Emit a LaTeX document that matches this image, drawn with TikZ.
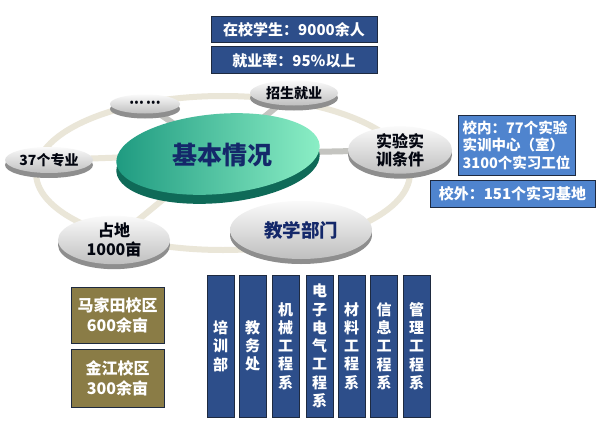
\documentclass[tikz,border=0pt]{standalone}
\usepackage{fontspec}
\newfontfamily\cjk{Noto Sans CJK SC}
\newfontfamily\lat{Noto Sans}
\usetikzlibrary{shapes.geometric,shadows,backgrounds}
\definecolor{ringc}{HTML}{EAE6D8}
\definecolor{spokec}{HTML}{C4C4C0}
\definecolor{darkblue}{HTML}{2D4E8A}
\definecolor{lightblue}{HTML}{4F84CE}
\definecolor{olive}{HTML}{8A7C46}
\definecolor{edgec}{HTML}{1E2A40}
\definecolor{navy}{HTML}{14286A}
\definecolor{tealA}{HTML}{1E9A80}
\definecolor{tealB}{HTML}{8CEFC6}
\definecolor{tealrim}{HTML}{0F6A58}
\definecolor{grayrim}{HTML}{8E8E8E}
\tikzset{
  box/.style={rectangle, draw=edgec, line width=1pt, text=white, inner sep=0pt, align=center},
  topbox/.style={box, fill=darkblue, minimum width=166pt, minimum height=26pt, font=\cjk\bfseries\fontsize{15}{18}\selectfont},
  rbox/.style={box, fill=lightblue, font=\cjk\bfseries\fontsize{14.5}{17.5}\selectfont},
  obox/.style={box, fill=olive, minimum width=93pt, font=\cjk\bfseries\fontsize{16}{20}\selectfont},
  vbox/.style={box, fill=darkblue, minimum width=27pt, minimum height=142pt, font=\cjk\bfseries\fontsize{15}{18.3}\selectfont},
  gnode/.style={ellipse, inner sep=0pt, align=center, text=black!85!navy,
     top color=white!96!gray, bottom color=gray!50,
     drop shadow={shadow xshift=0pt, shadow yshift=-5pt, fill=grayrim, opacity=1}},
  spoke/.style={spokec, line width=6pt},
}
\begin{document}
\begin{tikzpicture}[x=1pt,y=-1pt]
\useasboundingbox (0,0) rectangle (601,425);

% top boxes
\node[topbox] (t1) at (294,30) {在校学生：9000余人};
\node[topbox, minimum height=27pt] (t2) at (294,60.5) {就业率：95\%以上};

% central ellipse
\node[ellipse, minimum width=204pt, minimum height=80pt, rotate=5, inner sep=0pt,
  left color=tealA, right color=tealB,
  drop shadow={shadow xshift=0pt, shadow yshift=-9pt, fill=tealrim, opacity=1}] (c) at (218,154) {};
\node[text=navy, font=\cjk\bfseries\fontsize{25}{28}\selectfont] (ct) at (222,155) {基本情况};

% gray nodes
\node[gnode, minimum width=70pt, minimum height=19pt, font=\lat\bfseries\fontsize{13}{14}\selectfont] (dots) at (145,104) {•••\,•••};
\node[gnode, minimum width=88pt, minimum height=25pt, font=\cjk\bfseries\fontsize{14}{16}\selectfont] (zs) at (294,93) {招生就业};
\node[gnode, minimum width=88pt, minimum height=26pt, font=\cjk\bfseries\fontsize{14}{16}\selectfont] (zy) at (49,160) {37个专业};
\node[gnode, minimum width=104pt, minimum height=38pt, font=\cjk\bfseries\fontsize{16}{18}\selectfont] (sy) at (400,150) {实验实\\训条件};
\node[gnode, minimum width=112pt, minimum height=46pt, font=\cjk\bfseries\fontsize{16}{19}\selectfont] (zd) at (114,240) {占地\\1000亩};
\node[gnode, minimum width=142pt, minimum height=58pt, font=\cjk\bfseries\fontsize{18.5}{20}\selectfont, text=navy] (jx) at (301,230) {教学部门};

% ring and spokes
\begin{pgfonlayer}{background}
\fill[white] (0,0) rectangle (601,425);
\draw[ringc, line width=6pt] (223,173) ellipse [x radius=187, y radius=77];
\draw[spoke] (c.center) -- (dots.center);
\draw[spoke] (c.center) -- (zs.center);
\draw[spoke, ringc] (c.center) -- (zy.center);
\draw[spoke] (c.center) -- (sy.center);
\draw[spoke, ringc] (c.center) -- (zd.center);
\end{pgfonlayer}

% right boxes
\node[rbox, minimum width=117pt, minimum height=60pt, align=left] (r1) at (516.5,145) {校内：77个实验\\实训中心（室）\\3100个实习工位};
\node[rbox, minimum width=165pt, minimum height=27pt, font=\cjk\bfseries\fontsize{15}{18}\selectfont] (r2) at (512.5,193.5) {校外：151个实习基地};

% olive boxes
\node[obox, minimum height=56pt] (o1) at (117.5,315) {马家田校区\\600余亩};
\node[obox, minimum height=58pt] (o2) at (117.5,378) {金江校区\\300余亩};

% vertical boxes
\node[vbox] (v1) at (220.5,346) {培\\训\\部};
\node[vbox] (v2) at (252.5,346) {教\\务\\处};
\node[vbox] (v3) at (285.5,346) {机\\械\\工\\程\\系};
\node[vbox] (v4) at (319.5,346) {电\\子\\电\\气\\工\\程\\系};
\node[vbox] (v5) at (351.5,346) {材\\料\\工\\程\\系};
\node[vbox] (v6) at (384,346) {信\\息\\工\\程\\系};
\node[vbox] (v7) at (416.5,346) {管\\理\\工\\程\\系};
\end{tikzpicture}
\end{document}
